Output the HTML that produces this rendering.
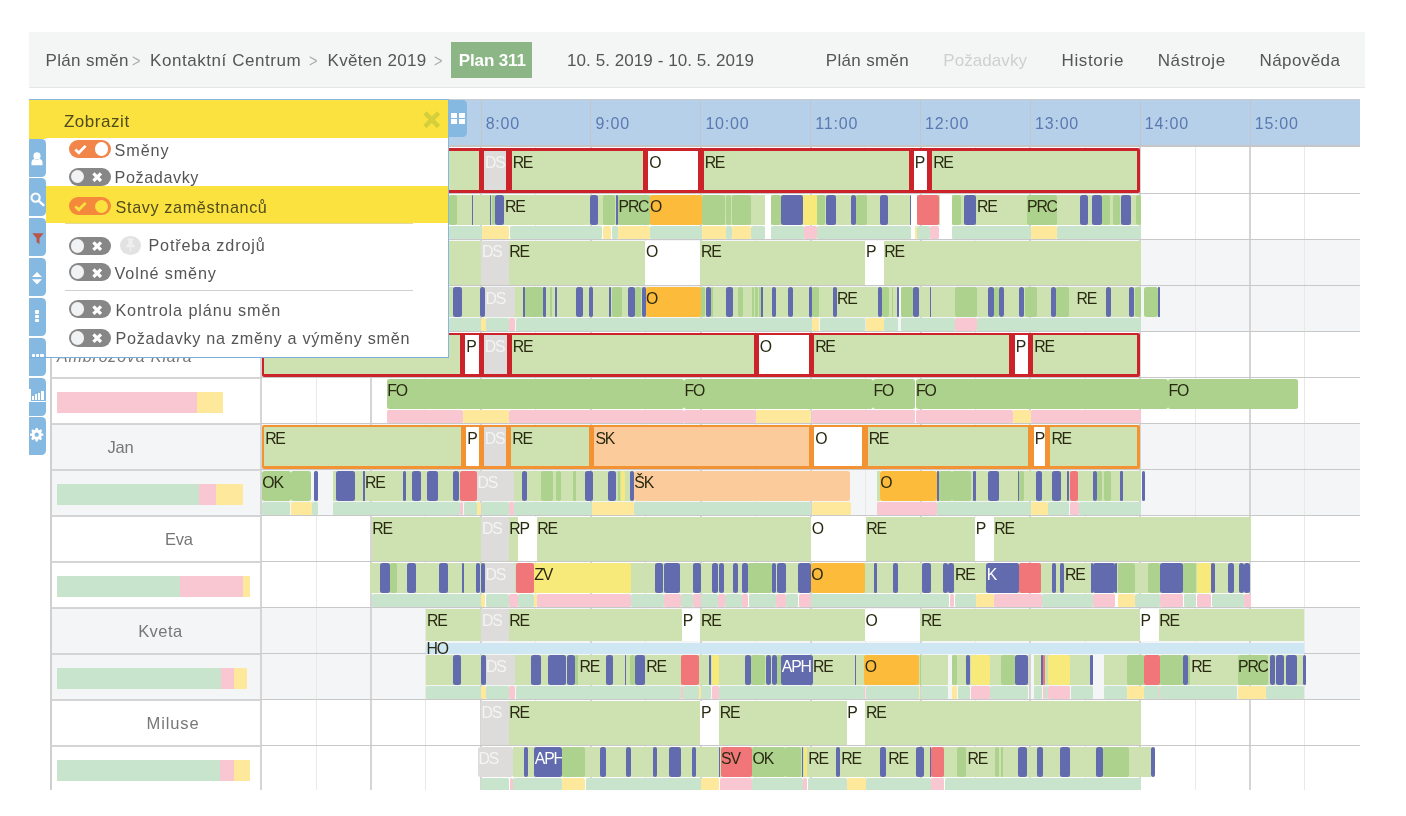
<!DOCTYPE html><html lang="cs"><head><meta charset="utf-8"><title>Plán směn</title><style>
html,body{margin:0;padding:0;background:#fff;}
body{width:1406px;height:816px;overflow:hidden;position:relative;font-family:"Liberation Sans",sans-serif;}
#clip{position:absolute;left:0;top:0;width:1406px;height:789.6px;overflow:hidden;z-index:0;}
#clip div,#clip span,#top span,#panel div,#panel span,#tabs div{position:absolute;box-sizing:border-box;}
.bk{}
.ov{overflow:hidden;}
.sb{border:2.6px solid #cc2229;}
.lb{z-index:2;font-size:15.8px;line-height:18px;letter-spacing:-1.25px;white-space:nowrap;padding-right:2px;}
.lb2{left:0.6px;top:3.25px;font-size:15.8px;line-height:18px;letter-spacing:-1.25px;white-space:nowrap;}
.hl{background:#d5d5d5;width:2px;}
.hh{background:#e9e9e9;width:1px;}
.rl{background:#d4d4d4;height:2px;}
.tm{font-size:16px;line-height:20px;color:#5b79b1;letter-spacing:0.8px;white-space:nowrap;}
.nm{font-size:16.5px;line-height:20px;color:#777;white-space:nowrap;}
#top{position:absolute;left:29px;top:32px;width:1335.5px;height:55.3px;background:#f4f6f5;border-bottom:1.2px solid #e6e6e6;box-sizing:content-box;}
#top span{font-size:17px;line-height:22px;color:#555;white-space:nowrap;top:17.5px;}
#panel{position:absolute;left:0;top:0;width:0;height:0;z-index:1;}
#tabs{position:absolute;left:0;top:0;z-index:2;}
.tg{width:42.4px;height:18.2px;border-radius:9.2px;}
.kn{width:13.6px;height:13.6px;border-radius:7px;top:2.3px;}
.pt{font-size:16.2px;line-height:20px;color:#555;white-space:nowrap;}
#tabs div.tb{left:29.2px;width:17.3px;height:38px;background:#86b9e1;border-radius:0 4.5px 4.5px 0;}
</style></head><body>
<div id="top">
<span style="left:422.25px;top:9.5px;width:81.2px;height:36.5px;background:#8cb686;"></span>
<span style="left:429.75px;color:#fff;font-weight:bold;letter-spacing:-0.127px;" id="t_plan" class="fit">Plan 311</span>
<span id="t0" class="fit" style="left:16.50px;;letter-spacing:0.330px;">Plán směn</span>
<span id="t1" class="fit" style="left:102.90px;color:#aaa;font-size:19px;top:18.2px;transform:scaleX(.76);transform-origin:0 50%;">&gt;</span>
<span id="t2" class="fit" style="left:121.00px;;letter-spacing:0.562px;">Kontaktní Centrum</span>
<span id="t3" class="fit" style="left:280.40px;color:#aaa;font-size:19px;top:18.2px;transform:scaleX(.76);transform-origin:0 50%;">&gt;</span>
<span id="t4" class="fit" style="left:298.50px;;letter-spacing:0.326px;">Květen 2019</span>
<span id="t5" class="fit" style="left:404.90px;color:#aaa;font-size:19px;top:18.2px;transform:scaleX(.76);transform-origin:0 50%;">&gt;</span>
<span id="t6" class="fit" style="left:538.00px;;letter-spacing:0.071px;">10. 5. 2019 - 10. 5. 2019</span>
<span id="t7" class="fit" style="left:796.75px;;letter-spacing:0.330px;">Plán směn</span>
<span id="t8" class="fit" style="left:914.25px;color:#cfcfcf;letter-spacing:0.070px;">Požadavky</span>
<span id="t9" class="fit" style="left:1032.50px;;letter-spacing:0.616px;">Historie</span>
<span id="t10" class="fit" style="left:1128.75px;;letter-spacing:0.592px;">Nástroje</span>
<span id="t11" class="fit" style="left:1230.50px;;letter-spacing:0.411px;">Nápověda</span>
</div>
<div id="clip">
<div style="left:51px;top:147.30px;width:1308.5px;height:46.03px;background:#ffffff"></div>
<div style="left:51px;top:193.33px;width:1308.5px;height:46.03px;background:#ffffff"></div>
<div style="left:51px;top:239.36px;width:1308.5px;height:46.03px;background:#f4f5f7"></div>
<div style="left:51px;top:285.39px;width:1308.5px;height:46.03px;background:#f4f5f7"></div>
<div style="left:51px;top:331.42px;width:1308.5px;height:46.03px;background:#ffffff"></div>
<div style="left:51px;top:377.45px;width:1308.5px;height:46.03px;background:#ffffff"></div>
<div style="left:51px;top:423.48px;width:1308.5px;height:46.03px;background:#f4f5f7"></div>
<div style="left:51px;top:469.51px;width:1308.5px;height:46.03px;background:#f4f5f7"></div>
<div style="left:51px;top:515.54px;width:1308.5px;height:46.03px;background:#ffffff"></div>
<div style="left:51px;top:561.57px;width:1308.5px;height:46.03px;background:#ffffff"></div>
<div style="left:51px;top:607.60px;width:1308.5px;height:46.03px;background:#f4f5f7"></div>
<div style="left:51px;top:653.63px;width:1308.5px;height:46.03px;background:#f4f5f7"></div>
<div style="left:51px;top:699.66px;width:1308.5px;height:46.03px;background:#ffffff"></div>
<div style="left:51px;top:745.69px;width:1308.5px;height:46.03px;background:#ffffff"></div>
<div style="left:448px;top:99.3px;width:911.5px;height:46.2px;background:#b6d0e9;border-top:1px solid #c9cdd2"></div>
<div class="hl" style="left:260.30px;top:146px;height:650px"></div>
<div class="hh" style="left:315.60px;top:147px;height:650px"></div>
<div class="hl" style="left:370.17px;top:146px;height:650px"></div>
<div class="hh" style="left:425.47px;top:147px;height:650px"></div>
<div class="hl" style="left:480.54px;top:100px;height:46px;background:#c2c5c9;width:1px"></div>
<div class="hl" style="left:480.04px;top:146px;height:650px"></div>
<div class="hh" style="left:535.34px;top:147px;height:650px"></div>
<div class="hl" style="left:590.41px;top:100px;height:46px;background:#c2c5c9;width:1px"></div>
<div class="hl" style="left:589.91px;top:146px;height:650px"></div>
<div class="hh" style="left:645.21px;top:147px;height:650px"></div>
<div class="hl" style="left:700.28px;top:100px;height:46px;background:#c2c5c9;width:1px"></div>
<div class="hl" style="left:699.78px;top:146px;height:650px"></div>
<div class="hh" style="left:755.08px;top:147px;height:650px"></div>
<div class="hl" style="left:810.15px;top:100px;height:46px;background:#c2c5c9;width:1px"></div>
<div class="hl" style="left:809.65px;top:146px;height:650px"></div>
<div class="hh" style="left:864.95px;top:147px;height:650px"></div>
<div class="hl" style="left:920.02px;top:100px;height:46px;background:#c2c5c9;width:1px"></div>
<div class="hl" style="left:919.52px;top:146px;height:650px"></div>
<div class="hh" style="left:974.82px;top:147px;height:650px"></div>
<div class="hl" style="left:1029.89px;top:100px;height:46px;background:#c2c5c9;width:1px"></div>
<div class="hl" style="left:1029.39px;top:146px;height:650px"></div>
<div class="hh" style="left:1084.69px;top:147px;height:650px"></div>
<div class="hl" style="left:1139.76px;top:100px;height:46px;background:#c2c5c9;width:1px"></div>
<div class="hl" style="left:1139.26px;top:146px;height:650px"></div>
<div class="hh" style="left:1194.56px;top:147px;height:650px"></div>
<div class="hl" style="left:1249.63px;top:100px;height:46px;background:#c2c5c9;width:1px"></div>
<div class="hl" style="left:1249.13px;top:146px;height:650px"></div>
<div class="hh" style="left:1304.43px;top:147px;height:650px"></div>
<div class="hl" style="left:50px;top:146px;height:650px;background:#cfcfcf"></div>
<div style="left:261px;top:145.3px;width:1098.5px;height:1.9px;background:#c6c6c6"></div>
<div class="rl" style="left:51px;top:192.93px;width:210px"></div>
<div class="rl" style="left:261px;top:193.13px;width:1098.5px;height:1px;background:#c8c8c8"></div>
<div class="rl" style="left:51px;top:238.96px;width:210px"></div>
<div class="rl" style="left:261px;top:239.16px;width:1098.5px;height:1px;background:#c8c8c8"></div>
<div class="rl" style="left:51px;top:284.99px;width:210px"></div>
<div class="rl" style="left:261px;top:285.19px;width:1098.5px;height:1px;background:#c8c8c8"></div>
<div class="rl" style="left:51px;top:331.02px;width:210px"></div>
<div class="rl" style="left:261px;top:331.22px;width:1098.5px;height:1px;background:#c8c8c8"></div>
<div class="rl" style="left:51px;top:377.05px;width:210px"></div>
<div class="rl" style="left:261px;top:377.25px;width:1098.5px;height:1px;background:#c8c8c8"></div>
<div class="rl" style="left:51px;top:423.08px;width:210px"></div>
<div class="rl" style="left:261px;top:423.28px;width:1098.5px;height:1px;background:#c8c8c8"></div>
<div class="rl" style="left:51px;top:469.11px;width:210px"></div>
<div class="rl" style="left:261px;top:469.31px;width:1098.5px;height:1px;background:#c8c8c8"></div>
<div class="rl" style="left:51px;top:515.14px;width:210px"></div>
<div class="rl" style="left:261px;top:515.34px;width:1098.5px;height:1px;background:#c8c8c8"></div>
<div class="rl" style="left:51px;top:561.17px;width:210px"></div>
<div class="rl" style="left:261px;top:561.37px;width:1098.5px;height:1px;background:#c8c8c8"></div>
<div class="rl" style="left:51px;top:607.20px;width:210px"></div>
<div class="rl" style="left:261px;top:607.40px;width:1098.5px;height:1px;background:#c8c8c8"></div>
<div class="rl" style="left:51px;top:653.23px;width:210px"></div>
<div class="rl" style="left:261px;top:653.43px;width:1098.5px;height:1px;background:#c8c8c8"></div>
<div class="rl" style="left:51px;top:699.26px;width:210px"></div>
<div class="rl" style="left:261px;top:699.46px;width:1098.5px;height:1px;background:#c8c8c8"></div>
<div class="rl" style="left:51px;top:745.29px;width:210px"></div>
<div class="rl" style="left:261px;top:745.49px;width:1098.5px;height:1px;background:#c8c8c8"></div>
<span class="tm" style="left:265.90px;top:114.2px">6:00</span>
<span class="tm" style="left:375.77px;top:114.2px">7:00</span>
<span class="tm" style="left:485.64px;top:114.2px">8:00</span>
<span class="tm" style="left:595.51px;top:114.2px">9:00</span>
<span class="tm" style="left:705.38px;top:114.2px">10:00</span>
<span class="tm" style="left:815.25px;top:114.2px">11:00</span>
<span class="tm" style="left:925.12px;top:114.2px">12:00</span>
<span class="tm" style="left:1034.99px;top:114.2px">13:00</span>
<span class="tm" style="left:1144.86px;top:114.2px">14:00</span>
<span class="tm" style="left:1254.73px;top:114.2px">15:00</span>
<span class="nm fit" id="n4" style="left:57.00px;top:345.02px;font-style:italic;font-size:16px;margin-top:2.3px;letter-spacing:0.85px;">Ambrozova Klara</span>
<span class="nm fit" id="n6" style="left:107.50px;top:437.08px;letter-spacing:-0.270px;">Jan</span>
<span class="nm fit" id="n8" style="left:165.00px;top:529.14px;letter-spacing:-0.296px;">Eva</span>
<span class="nm fit" id="n10" style="left:138.20px;top:621.20px;letter-spacing:0.419px;">Kveta</span>
<span class="nm fit" id="n12" style="left:146.50px;top:713.26px;letter-spacing:0.894px;">Miluse</span>
<div class="bk" style="left:261.50px;top:147.90px;width:878.50px;height:45.20px;background:#cc2229;border-radius:2px;"></div>
<div class="bk" style="left:264.15px;top:150.55px;width:214.60px;height:39.90px;background:#cde2b0;"></div>
<div class="bk" style="left:484.05px;top:150.55px;width:22.30px;height:39.90px;background:#dddcda;"></div>
<span class="lb" style="left:485.05px;top:153.65px;color:#f4f4f3">DS</span>
<div class="bk" style="left:511.65px;top:150.55px;width:131.40px;height:39.90px;background:#cde2b0;"></div>
<span class="lb" style="left:512.65px;top:153.65px;color:#2a2a12">RE</span>
<div class="bk" style="left:648.35px;top:150.55px;width:50.00px;height:39.90px;background:#ffffff;"></div>
<span class="lb" style="left:649.35px;top:153.65px;color:#2a2a12">O</span>
<div class="bk" style="left:703.65px;top:150.55px;width:204.90px;height:39.90px;background:#cde2b0;"></div>
<span class="lb" style="left:704.65px;top:153.65px;color:#2a2a12">RE</span>
<div class="bk" style="left:913.85px;top:150.55px;width:13.00px;height:39.90px;background:#ffffff;"></div>
<span class="lb" style="left:914.85px;top:153.65px;color:#2a2a12">P</span>
<div class="bk" style="left:932.15px;top:150.55px;width:205.20px;height:39.90px;background:#cde2b0;"></div>
<span class="lb" style="left:933.15px;top:153.65px;color:#2a2a12">RE</span>
<div class="bk" style="left:371.50px;top:240.81px;width:109.75px;height:44.15px;background:#cde2b0;"></div>
<span class="lb" style="left:372.30px;top:243.36px;color:#2a2a12">RE</span>
<div class="bk" style="left:481.25px;top:240.81px;width:27.25px;height:44.15px;background:#dddcda;"></div>
<span class="lb" style="left:482.05px;top:243.36px;color:#f4f4f3">DS</span>
<div class="bk" style="left:508.50px;top:240.81px;width:136.75px;height:44.15px;background:#cde2b0;"></div>
<span class="lb" style="left:509.30px;top:243.36px;color:#2a2a12">RE</span>
<div class="bk" style="left:645.25px;top:240.81px;width:55.00px;height:44.15px;background:#ffffff;"></div>
<span class="lb" style="left:646.05px;top:243.36px;color:#2a2a12">O</span>
<div class="bk" style="left:700.25px;top:240.81px;width:165.00px;height:44.15px;background:#cde2b0;"></div>
<span class="lb" style="left:701.05px;top:243.36px;color:#2a2a12">RE</span>
<div class="bk" style="left:865.25px;top:240.81px;width:18.25px;height:44.15px;background:#ffffff;"></div>
<span class="lb" style="left:866.05px;top:243.36px;color:#2a2a12">P</span>
<div class="bk" style="left:883.50px;top:240.81px;width:257.00px;height:44.15px;background:#cde2b0;"></div>
<span class="lb" style="left:884.30px;top:243.36px;color:#2a2a12">RE</span>
<div class="bk" style="left:261.50px;top:332.67px;width:878.50px;height:44.35px;background:#cc2229;border-radius:2px;"></div>
<div class="bk" style="left:264.15px;top:335.32px;width:195.80px;height:39.05px;background:#cde2b0;"></div>
<span class="lb" style="left:265.15px;top:337.77px;color:#2a2a12">RE</span>
<div class="bk" style="left:465.25px;top:335.32px;width:13.30px;height:39.05px;background:#ffffff;"></div>
<span class="lb" style="left:466.25px;top:337.77px;color:#2a2a12">P</span>
<div class="bk" style="left:483.85px;top:335.32px;width:22.70px;height:39.05px;background:#dddcda;"></div>
<span class="lb" style="left:484.85px;top:337.77px;color:#f4f4f3">DS</span>
<div class="bk" style="left:511.85px;top:335.32px;width:241.70px;height:39.05px;background:#cde2b0;"></div>
<span class="lb" style="left:512.85px;top:337.77px;color:#2a2a12">RE</span>
<div class="bk" style="left:758.85px;top:335.32px;width:50.00px;height:39.05px;background:#ffffff;"></div>
<span class="lb" style="left:759.85px;top:337.77px;color:#2a2a12">O</span>
<div class="bk" style="left:814.15px;top:335.32px;width:195.20px;height:39.05px;background:#cde2b0;"></div>
<span class="lb" style="left:815.15px;top:337.77px;color:#2a2a12">RE</span>
<div class="bk" style="left:1014.65px;top:335.32px;width:13.40px;height:39.05px;background:#ffffff;"></div>
<span class="lb" style="left:1015.65px;top:337.77px;color:#2a2a12">P</span>
<div class="bk" style="left:1033.35px;top:335.32px;width:104.00px;height:39.05px;background:#cde2b0;"></div>
<span class="lb" style="left:1034.35px;top:337.77px;color:#2a2a12">RE</span>
<div class="bk" style="left:261.50px;top:424.73px;width:878.50px;height:44.35px;background:#f39233;border-radius:2px;"></div>
<div class="bk" style="left:264.15px;top:427.38px;width:196.70px;height:39.05px;background:#cde2b0;"></div>
<span class="lb" style="left:265.15px;top:429.83px;color:#2a2a12">RE</span>
<div class="bk" style="left:466.15px;top:427.38px;width:12.40px;height:39.05px;background:#ffffff;"></div>
<span class="lb" style="left:467.15px;top:429.83px;color:#2a2a12">P</span>
<div class="bk" style="left:483.85px;top:427.38px;width:22.20px;height:39.05px;background:#dddcda;"></div>
<span class="lb" style="left:484.85px;top:429.83px;color:#f4f4f3">DS</span>
<div class="bk" style="left:511.35px;top:427.38px;width:77.80px;height:39.05px;background:#cde2b0;"></div>
<span class="lb" style="left:512.35px;top:429.83px;color:#2a2a12">RE</span>
<div class="bk" style="left:594.45px;top:427.38px;width:214.40px;height:39.05px;background:#fccb9c;"></div>
<span class="lb" style="left:595.45px;top:429.83px;color:#2a2a12">SK</span>
<div class="bk" style="left:814.15px;top:427.38px;width:48.20px;height:39.05px;background:#ffffff;"></div>
<span class="lb" style="left:815.15px;top:429.83px;color:#2a2a12">O</span>
<div class="bk" style="left:867.65px;top:427.38px;width:160.70px;height:39.05px;background:#cde2b0;"></div>
<span class="lb" style="left:868.65px;top:429.83px;color:#2a2a12">RE</span>
<div class="bk" style="left:1033.65px;top:427.38px;width:11.50px;height:39.05px;background:#ffffff;"></div>
<span class="lb" style="left:1034.65px;top:429.83px;color:#2a2a12">P</span>
<div class="bk" style="left:1050.45px;top:427.38px;width:86.90px;height:39.05px;background:#cde2b0;"></div>
<span class="lb" style="left:1051.45px;top:429.83px;color:#2a2a12">RE</span>
<div class="bk" style="left:371.50px;top:516.99px;width:109.75px;height:44.15px;background:#cde2b0;"></div>
<span class="lb" style="left:372.30px;top:519.54px;color:#2a2a12">RE</span>
<div class="bk" style="left:481.25px;top:516.99px;width:27.25px;height:44.15px;background:#dddcda;"></div>
<span class="lb" style="left:482.05px;top:519.54px;color:#f4f4f3">DS</span>
<div class="bk" style="left:508.50px;top:516.99px;width:9.00px;height:44.15px;background:#cde2b0;"></div>
<span class="lb" style="left:509.30px;top:519.54px;color:#2a2a12">RP</span>
<div class="bk" style="left:517.50px;top:516.99px;width:19.00px;height:44.15px;background:#ffffff;"></div>
<div class="bk" style="left:536.50px;top:516.99px;width:274.50px;height:44.15px;background:#cde2b0;"></div>
<span class="lb" style="left:537.30px;top:519.54px;color:#2a2a12">RE</span>
<div class="bk" style="left:811.00px;top:516.99px;width:54.50px;height:44.15px;background:#ffffff;"></div>
<span class="lb" style="left:811.80px;top:519.54px;color:#2a2a12">O</span>
<div class="bk" style="left:865.50px;top:516.99px;width:109.50px;height:44.15px;background:#cde2b0;"></div>
<span class="lb" style="left:866.30px;top:519.54px;color:#2a2a12">RE</span>
<div class="bk" style="left:975.00px;top:516.99px;width:18.50px;height:44.15px;background:#ffffff;"></div>
<span class="lb" style="left:975.80px;top:519.54px;color:#2a2a12">P</span>
<div class="bk" style="left:993.50px;top:516.99px;width:257.50px;height:44.15px;background:#cde2b0;"></div>
<span class="lb" style="left:994.30px;top:519.54px;color:#2a2a12">RE</span>
<div class="bk" style="left:426.25px;top:609.05px;width:55.00px;height:31.95px;background:#cde2b0;"></div>
<span class="lb" style="left:427.05px;top:611.60px;color:#2a2a12">RE</span>
<div class="bk" style="left:481.25px;top:609.05px;width:27.25px;height:31.95px;background:#dddcda;"></div>
<span class="lb" style="left:482.05px;top:611.60px;color:#f4f4f3">DS</span>
<div class="bk" style="left:508.50px;top:609.05px;width:173.50px;height:31.95px;background:#cde2b0;"></div>
<span class="lb" style="left:509.30px;top:611.60px;color:#2a2a12">RE</span>
<div class="bk" style="left:682.00px;top:609.05px;width:18.25px;height:31.95px;background:#ffffff;"></div>
<span class="lb" style="left:682.80px;top:611.60px;color:#2a2a12">P</span>
<div class="bk" style="left:700.25px;top:609.05px;width:164.50px;height:31.95px;background:#cde2b0;"></div>
<span class="lb" style="left:701.05px;top:611.60px;color:#2a2a12">RE</span>
<div class="bk" style="left:864.75px;top:609.05px;width:55.50px;height:31.95px;background:#ffffff;"></div>
<span class="lb" style="left:865.55px;top:611.60px;color:#2a2a12">O</span>
<div class="bk" style="left:920.25px;top:609.05px;width:219.50px;height:31.95px;background:#cde2b0;"></div>
<span class="lb" style="left:921.05px;top:611.60px;color:#2a2a12">RE</span>
<div class="bk" style="left:1139.75px;top:609.05px;width:18.75px;height:31.95px;background:#ffffff;"></div>
<span class="lb" style="left:1140.55px;top:611.60px;color:#2a2a12">P</span>
<div class="bk" style="left:1158.50px;top:609.05px;width:145.50px;height:31.95px;background:#cde2b0;"></div>
<span class="lb" style="left:1159.30px;top:611.60px;color:#2a2a12">RE</span>
<div class="bk" style="left:480.75px;top:701.11px;width:27.75px;height:44.15px;background:#dddcda;"></div>
<span class="lb" style="left:481.55px;top:703.66px;color:#f4f4f3">DS</span>
<div class="bk" style="left:508.50px;top:701.11px;width:191.75px;height:44.15px;background:#cde2b0;"></div>
<span class="lb" style="left:509.30px;top:703.66px;color:#2a2a12">RE</span>
<div class="bk" style="left:700.25px;top:701.11px;width:18.75px;height:44.15px;background:#ffffff;"></div>
<span class="lb" style="left:701.05px;top:703.66px;color:#2a2a12">P</span>
<div class="bk" style="left:719.00px;top:701.11px;width:127.50px;height:44.15px;background:#cde2b0;"></div>
<span class="lb" style="left:719.80px;top:703.66px;color:#2a2a12">RE</span>
<div class="bk" style="left:846.50px;top:701.11px;width:18.75px;height:44.15px;background:#ffffff;"></div>
<span class="lb" style="left:847.30px;top:703.66px;color:#2a2a12">P</span>
<div class="bk" style="left:865.25px;top:701.11px;width:275.25px;height:44.15px;background:#cde2b0;"></div>
<span class="lb" style="left:866.05px;top:703.66px;color:#2a2a12">RE</span>
<div class="bk" style="left:426.25px;top:642.60px;width:877.75px;height:11.00px;background:#cfe6f3;"></div>
<span class="lb" style="left:426.6px;top:640.40px;color:#2a2a12;height:13.3px;overflow:hidden">HO</span>
<div class="bk" style="left:449.00px;top:194.53px;width:315.50px;height:30.30px;background:#cde2b0;"></div>
<div class="bk" style="left:770.50px;top:194.53px;width:139.50px;height:30.30px;background:#cde2b0;"></div>
<div class="bk" style="left:917.00px;top:194.53px;width:23.00px;height:30.30px;background:#cde2b0;"></div>
<div class="bk" style="left:952.00px;top:194.53px;width:188.50px;height:30.30px;background:#cde2b0;"></div>
<div class="bk" style="left:449.00px;top:194.53px;width:7.50px;height:30.30px;background:#acd28e;border-radius:2.5px;"></div>
<div class="bk" style="left:471.50px;top:194.53px;width:1.10px;height:30.30px;background:#626bad;border-radius:0.6px;"></div>
<div class="bk" style="left:489.60px;top:194.53px;width:1.40px;height:30.30px;background:#626bad;border-radius:0.7px;"></div>
<div class="bk" style="left:491.75px;top:194.53px;width:2.75px;height:30.30px;background:#acd28e;border-radius:1.4px;"></div>
<div class="bk" style="left:495.00px;top:194.53px;width:8.75px;height:30.30px;background:#626bad;border-radius:2.5px;"></div>
<div class="bk" style="left:589.50px;top:194.53px;width:8.50px;height:30.30px;background:#626bad;border-radius:2.5px;"></div>
<div class="bk" style="left:602.50px;top:194.53px;width:12.50px;height:30.30px;background:#acd28e;border-radius:2.5px;"></div>
<div class="bk" style="left:615.75px;top:194.53px;width:2.25px;height:30.30px;background:#626bad;border-radius:1.1px;"></div>
<div class="bk ov" style="left:618.00px;top:194.53px;width:31.50px;height:30.30px;background:#acd28e;border-radius:2.5px;"><span class="lb2" style="color:#2a2a12">PRC</span></div>
<div class="bk ov" style="left:649.50px;top:194.53px;width:52.50px;height:30.30px;background:#fcbb3a;border-radius:2.5px;"><span class="lb2" style="color:#2a2a12">O</span></div>
<div class="bk" style="left:702.00px;top:194.53px;width:23.00px;height:30.30px;background:#acd28e;border-radius:2.5px;"></div>
<div class="bk" style="left:725.50px;top:194.53px;width:5.50px;height:30.30px;background:#acd28e;border-radius:2.5px;"></div>
<div class="bk" style="left:731.50px;top:194.53px;width:19.25px;height:30.30px;background:#acd28e;border-radius:2.5px;"></div>
<div class="bk" style="left:770.50px;top:194.53px;width:10.00px;height:30.30px;background:#acd28e;border-radius:2.5px;"></div>
<div class="bk" style="left:780.50px;top:194.53px;width:22.75px;height:30.30px;background:#626bad;border-radius:2.5px;"></div>
<div class="bk" style="left:803.25px;top:194.53px;width:13.25px;height:30.30px;background:#f7ea7a;border-radius:2.5px;"></div>
<div class="bk" style="left:817.00px;top:194.53px;width:8.00px;height:30.30px;background:#acd28e;border-radius:2.5px;"></div>
<div class="bk" style="left:825.50px;top:194.53px;width:10.50px;height:30.30px;background:#626bad;border-radius:2.5px;"></div>
<div class="bk" style="left:850.75px;top:194.53px;width:5.00px;height:30.30px;background:#626bad;border-radius:2.5px;"></div>
<div class="bk" style="left:856.00px;top:194.53px;width:11.00px;height:30.30px;background:#acd28e;border-radius:2.5px;"></div>
<div class="bk" style="left:880.00px;top:194.53px;width:7.50px;height:30.30px;background:#626bad;border-radius:2.5px;"></div>
<div class="bk" style="left:910.00px;top:194.53px;width:1.25px;height:30.30px;background:#626bad;border-radius:0.6px;"></div>
<div class="bk" style="left:917.00px;top:194.53px;width:21.75px;height:30.30px;background:#f07679;border-radius:2.5px;"></div>
<div class="bk" style="left:952.00px;top:194.53px;width:9.00px;height:30.30px;background:#acd28e;border-radius:2.5px;"></div>
<div class="bk" style="left:963.75px;top:194.53px;width:12.00px;height:30.30px;background:#626bad;border-radius:2.5px;"></div>
<div class="bk ov" style="left:1026.50px;top:194.53px;width:30.00px;height:30.30px;background:#acd28e;border-radius:2.5px;"><span class="lb2" style="color:#2a2a12">PRC</span></div>
<div class="bk" style="left:1079.50px;top:194.53px;width:8.75px;height:30.30px;background:#626bad;border-radius:2.5px;"></div>
<div class="bk" style="left:1092.00px;top:194.53px;width:9.50px;height:30.30px;background:#626bad;border-radius:2.5px;"></div>
<div class="bk" style="left:1101.50px;top:194.53px;width:8.50px;height:30.30px;background:#acd28e;border-radius:2.5px;"></div>
<div class="bk" style="left:1112.50px;top:194.53px;width:7.50px;height:30.30px;background:#acd28e;border-radius:2.5px;"></div>
<div class="bk" style="left:1121.25px;top:194.53px;width:9.50px;height:30.30px;background:#626bad;border-radius:2.5px;"></div>
<div class="bk" style="left:1135.75px;top:194.53px;width:4.75px;height:30.30px;background:#acd28e;border-radius:2.4px;"></div>
<span class="lb" style="left:505.00px;top:197.78px;color:#2a2a12">RE</span>
<span class="lb" style="left:977.00px;top:197.78px;color:#2a2a12">RE</span>
<div class="bk" style="left:449.00px;top:226.13px;width:32.50px;height:12.90px;background:#c9e4cc;border-radius:1.5px;"></div>
<div class="bk" style="left:481.50px;top:226.13px;width:27.50px;height:12.90px;background:#fde89c;border-radius:1.5px;"></div>
<div class="bk" style="left:509.50px;top:226.13px;width:92.50px;height:12.90px;background:#c9e4cc;border-radius:1.5px;"></div>
<div class="bk" style="left:602.50px;top:226.13px;width:8.50px;height:12.90px;background:#fde89c;border-radius:1.5px;"></div>
<div class="bk" style="left:612.00px;top:226.13px;width:5.50px;height:12.90px;background:#c9e4cc;border-radius:1.5px;"></div>
<div class="bk" style="left:618.00px;top:226.13px;width:31.50px;height:12.90px;background:#fde89c;border-radius:1.5px;"></div>
<div class="bk" style="left:649.50px;top:226.13px;width:52.00px;height:12.90px;background:#c9e4cc;border-radius:1.5px;"></div>
<div class="bk" style="left:702.00px;top:226.13px;width:23.50px;height:12.90px;background:#fde89c;border-radius:1.5px;"></div>
<div class="bk" style="left:726.00px;top:226.13px;width:5.50px;height:12.90px;background:#c9e4cc;border-radius:1.5px;"></div>
<div class="bk" style="left:732.00px;top:226.13px;width:18.50px;height:12.90px;background:#fde89c;border-radius:1.5px;"></div>
<div class="bk" style="left:751.00px;top:226.13px;width:13.50px;height:12.90px;background:#c9e4cc;border-radius:1.5px;"></div>
<div class="bk" style="left:770.50px;top:226.13px;width:33.00px;height:12.90px;background:#c9e4cc;border-radius:1.5px;"></div>
<div class="bk" style="left:803.50px;top:226.13px;width:13.00px;height:12.90px;background:#f9c7d1;border-radius:1.5px;"></div>
<div class="bk" style="left:817.00px;top:226.13px;width:93.50px;height:12.90px;background:#c9e4cc;border-radius:1.5px;"></div>
<div class="bk" style="left:915.25px;top:226.13px;width:1.25px;height:12.90px;background:#fde89c;border-radius:1.5px;"></div>
<div class="bk" style="left:917.00px;top:226.13px;width:12.50px;height:12.90px;background:#c9e4cc;border-radius:1.5px;"></div>
<div class="bk" style="left:930.00px;top:226.13px;width:8.50px;height:12.90px;background:#f9c7d1;border-radius:1.5px;"></div>
<div class="bk" style="left:952.00px;top:226.13px;width:78.50px;height:12.90px;background:#c9e4cc;border-radius:1.5px;"></div>
<div class="bk" style="left:1031.00px;top:226.13px;width:25.50px;height:12.90px;background:#fde89c;border-radius:1.5px;"></div>
<div class="bk" style="left:1057.00px;top:226.13px;width:83.50px;height:12.90px;background:#c9e4cc;border-radius:1.5px;"></div>
<div class="bk" style="left:449.00px;top:286.59px;width:447.50px;height:30.30px;background:#cde2b0;"></div>
<div class="bk" style="left:901.00px;top:286.59px;width:239.50px;height:30.30px;background:#cde2b0;"></div>
<div class="bk" style="left:452.50px;top:286.59px;width:9.25px;height:30.30px;background:#626bad;border-radius:2.5px;"></div>
<div class="bk" style="left:480.00px;top:286.59px;width:5.00px;height:30.30px;background:#626bad;border-radius:2.5px;"></div>
<div class="bk ov" style="left:485.00px;top:286.59px;width:30.00px;height:30.30px;background:#dddcda;border-radius:2.5px;"><span class="lb2" style="color:#f4f4f3">DS</span></div>
<div class="bk" style="left:523.25px;top:286.59px;width:1.25px;height:30.30px;background:#626bad;border-radius:0.6px;"></div>
<div class="bk" style="left:524.50px;top:286.59px;width:18.00px;height:30.30px;background:#acd28e;border-radius:2.5px;"></div>
<div class="bk" style="left:543.25px;top:286.59px;width:2.50px;height:30.30px;background:#626bad;border-radius:1.2px;"></div>
<div class="bk" style="left:550.00px;top:286.59px;width:2.00px;height:30.30px;background:#acd28e;border-radius:1.0px;"></div>
<div class="bk" style="left:554.50px;top:286.59px;width:2.50px;height:30.30px;background:#626bad;border-radius:1.2px;"></div>
<div class="bk" style="left:576.25px;top:286.59px;width:6.25px;height:30.30px;background:#626bad;border-radius:2.5px;"></div>
<div class="bk" style="left:589.00px;top:286.59px;width:3.50px;height:30.30px;background:#626bad;border-radius:1.8px;"></div>
<div class="bk" style="left:609.00px;top:286.59px;width:2.25px;height:30.30px;background:#626bad;border-radius:1.1px;"></div>
<div class="bk" style="left:611.50px;top:286.59px;width:10.00px;height:30.30px;background:#acd28e;border-radius:2.5px;"></div>
<div class="bk" style="left:627.50px;top:286.59px;width:7.00px;height:30.30px;background:#626bad;border-radius:2.5px;"></div>
<div class="bk" style="left:634.50px;top:286.59px;width:6.50px;height:30.30px;background:#acd28e;border-radius:2.5px;"></div>
<div class="bk" style="left:641.50px;top:286.59px;width:4.00px;height:30.30px;background:#626bad;border-radius:2.0px;"></div>
<div class="bk ov" style="left:645.50px;top:286.59px;width:55.25px;height:30.30px;background:#fcbb3a;border-radius:2.5px;"><span class="lb2" style="color:#2a2a12">O</span></div>
<div class="bk" style="left:701.00px;top:286.59px;width:4.00px;height:30.30px;background:#acd28e;border-radius:2.0px;"></div>
<div class="bk" style="left:705.75px;top:286.59px;width:5.00px;height:30.30px;background:#626bad;border-radius:2.5px;"></div>
<div class="bk" style="left:711.00px;top:286.59px;width:2.00px;height:30.30px;background:#acd28e;border-radius:1.0px;"></div>
<div class="bk" style="left:725.75px;top:286.59px;width:7.50px;height:30.30px;background:#626bad;border-radius:2.5px;"></div>
<div class="bk" style="left:737.50px;top:286.59px;width:5.00px;height:30.30px;background:#acd28e;border-radius:2.5px;"></div>
<div class="bk" style="left:751.75px;top:286.59px;width:2.25px;height:30.30px;background:#acd28e;border-radius:1.1px;"></div>
<div class="bk" style="left:755.00px;top:286.59px;width:2.60px;height:30.30px;background:#acd28e;border-radius:1.3px;"></div>
<div class="bk" style="left:758.60px;top:286.59px;width:2.40px;height:30.30px;background:#acd28e;border-radius:1.2px;"></div>
<div class="bk" style="left:761.25px;top:286.59px;width:1.25px;height:30.30px;background:#626bad;border-radius:0.6px;"></div>
<div class="bk" style="left:771.75px;top:286.59px;width:4.50px;height:30.30px;background:#626bad;border-radius:2.2px;"></div>
<div class="bk" style="left:788.25px;top:286.59px;width:5.00px;height:30.30px;background:#626bad;border-radius:2.5px;"></div>
<div class="bk" style="left:809.00px;top:286.59px;width:2.50px;height:30.30px;background:#626bad;border-radius:1.2px;"></div>
<div class="bk" style="left:812.00px;top:286.59px;width:6.50px;height:30.30px;background:#acd28e;border-radius:2.5px;"></div>
<div class="bk" style="left:832.50px;top:286.59px;width:4.00px;height:30.30px;background:#626bad;border-radius:2.0px;"></div>
<div class="bk" style="left:878.25px;top:286.59px;width:3.75px;height:30.30px;background:#626bad;border-radius:1.9px;"></div>
<div class="bk" style="left:882.00px;top:286.59px;width:6.50px;height:30.30px;background:#acd28e;border-radius:2.5px;"></div>
<div class="bk" style="left:891.60px;top:286.59px;width:1.00px;height:30.30px;background:#acd28e;border-radius:0.5px;"></div>
<div class="bk" style="left:897.00px;top:286.59px;width:1.50px;height:30.30px;background:#626bad;border-radius:0.8px;"></div>
<div class="bk" style="left:901.25px;top:286.59px;width:11.25px;height:30.30px;background:#acd28e;border-radius:2.5px;"></div>
<div class="bk" style="left:912.50px;top:286.59px;width:6.50px;height:30.30px;background:#626bad;border-radius:2.5px;"></div>
<div class="bk" style="left:929.50px;top:286.59px;width:1.50px;height:30.30px;background:#626bad;border-radius:0.8px;"></div>
<div class="bk" style="left:955.00px;top:286.59px;width:22.00px;height:30.30px;background:#acd28e;border-radius:2.5px;"></div>
<div class="bk" style="left:987.50px;top:286.59px;width:6.25px;height:30.30px;background:#626bad;border-radius:2.5px;"></div>
<div class="bk" style="left:994.00px;top:286.59px;width:4.50px;height:30.30px;background:#acd28e;border-radius:2.2px;"></div>
<div class="bk" style="left:999.25px;top:286.59px;width:4.75px;height:30.30px;background:#626bad;border-radius:2.4px;"></div>
<div class="bk" style="left:1019.00px;top:286.59px;width:5.00px;height:30.30px;background:#626bad;border-radius:2.5px;"></div>
<div class="bk" style="left:1024.50px;top:286.59px;width:12.50px;height:30.30px;background:#acd28e;border-radius:2.5px;"></div>
<div class="bk" style="left:1050.50px;top:286.59px;width:5.00px;height:30.30px;background:#626bad;border-radius:2.5px;"></div>
<div class="bk" style="left:1056.00px;top:286.59px;width:12.50px;height:30.30px;background:#acd28e;border-radius:2.5px;"></div>
<div class="bk" style="left:1105.50px;top:286.59px;width:5.00px;height:30.30px;background:#626bad;border-radius:2.5px;"></div>
<div class="bk" style="left:1129.00px;top:286.59px;width:5.00px;height:30.30px;background:#626bad;border-radius:2.5px;"></div>
<div class="bk" style="left:1134.50px;top:286.59px;width:6.00px;height:30.30px;background:#acd28e;border-radius:2.5px;"></div>
<div class="bk" style="left:1144.00px;top:286.59px;width:13.75px;height:30.30px;background:#acd28e;border-radius:2.5px;"></div>
<div class="bk" style="left:1158.40px;top:286.59px;width:1.20px;height:30.30px;background:#626bad;border-radius:0.6px;"></div>
<span class="lb" style="left:837.00px;top:289.84px;color:#2a2a12">RE</span>
<span class="lb" style="left:1076.50px;top:289.84px;color:#2a2a12">RE</span>
<div class="bk" style="left:449.00px;top:318.19px;width:32.00px;height:12.90px;background:#c9e4cc;border-radius:1.5px;"></div>
<div class="bk" style="left:481.25px;top:318.19px;width:4.25px;height:12.90px;background:#fde89c;border-radius:1.5px;"></div>
<div class="bk" style="left:486.00px;top:318.19px;width:23.00px;height:12.90px;background:#c9e4cc;border-radius:1.5px;"></div>
<div class="bk" style="left:509.25px;top:318.19px;width:5.75px;height:12.90px;background:#f9c7d1;border-radius:1.5px;"></div>
<div class="bk" style="left:515.50px;top:318.19px;width:296.00px;height:12.90px;background:#c9e4cc;border-radius:1.5px;"></div>
<div class="bk" style="left:812.00px;top:318.19px;width:7.00px;height:12.90px;background:#fde89c;border-radius:1.5px;"></div>
<div class="bk" style="left:819.50px;top:318.19px;width:45.50px;height:12.90px;background:#c9e4cc;border-radius:1.5px;"></div>
<div class="bk" style="left:865.50px;top:318.19px;width:18.00px;height:12.90px;background:#fde89c;border-radius:1.5px;"></div>
<div class="bk" style="left:884.00px;top:318.19px;width:14.00px;height:12.90px;background:#c9e4cc;border-radius:1.5px;"></div>
<div class="bk" style="left:901.00px;top:318.19px;width:53.50px;height:12.90px;background:#c9e4cc;border-radius:1.5px;"></div>
<div class="bk" style="left:955.00px;top:318.19px;width:22.00px;height:12.90px;background:#f9c7d1;border-radius:1.5px;"></div>
<div class="bk" style="left:977.00px;top:318.19px;width:163.50px;height:12.90px;background:#c9e4cc;border-radius:1.5px;"></div>
<div class="bk ov" style="left:386.75px;top:378.65px;width:296.95px;height:30.30px;background:#acd28e;border-radius:2.5px;"><span class="lb2" style="color:#2a2a12">FO</span></div>
<div class="bk ov" style="left:684.00px;top:378.65px;width:188.70px;height:30.30px;background:#acd28e;border-radius:2.5px;"><span class="lb2" style="color:#2a2a12">FO</span></div>
<div class="bk ov" style="left:873.00px;top:378.65px;width:42.20px;height:30.30px;background:#acd28e;border-radius:2.5px;"><span class="lb2" style="color:#2a2a12">FO</span></div>
<div class="bk ov" style="left:915.50px;top:378.65px;width:252.20px;height:30.30px;background:#acd28e;border-radius:2.5px;"><span class="lb2" style="color:#2a2a12">FO</span></div>
<div class="bk ov" style="left:1168.00px;top:378.65px;width:129.50px;height:30.30px;background:#acd28e;border-radius:2.5px;"><span class="lb2" style="color:#2a2a12">FO</span></div>
<div class="bk" style="left:387.00px;top:410.25px;width:75.50px;height:12.90px;background:#f9c7d1;border-radius:1.5px;"></div>
<div class="bk" style="left:463.00px;top:410.25px;width:45.50px;height:12.90px;background:#fde89c;border-radius:1.5px;"></div>
<div class="bk" style="left:509.00px;top:410.25px;width:174.80px;height:12.90px;background:#f9c7d1;border-radius:1.5px;"></div>
<div class="bk" style="left:684.00px;top:410.25px;width:72.00px;height:12.90px;background:#f9c7d1;border-radius:1.5px;"></div>
<div class="bk" style="left:756.00px;top:410.25px;width:55.00px;height:12.90px;background:#fde89c;border-radius:1.5px;"></div>
<div class="bk" style="left:811.50px;top:410.25px;width:103.80px;height:12.90px;background:#f9c7d1;border-radius:1.5px;"></div>
<div class="bk" style="left:915.50px;top:410.25px;width:97.00px;height:12.90px;background:#f9c7d1;border-radius:1.5px;"></div>
<div class="bk" style="left:1012.50px;top:410.25px;width:18.50px;height:12.90px;background:#fde89c;border-radius:1.5px;"></div>
<div class="bk" style="left:1031.00px;top:410.25px;width:109.50px;height:12.90px;background:#f9c7d1;border-radius:1.5px;"></div>
<div class="bk" style="left:57.00px;top:391.65px;width:140.00px;height:20.90px;background:#f9c7d1;"></div>
<div class="bk" style="left:197.00px;top:391.65px;width:26.25px;height:20.90px;background:#fde89c;"></div>
<div class="bk" style="left:332.50px;top:470.71px;width:301.25px;height:30.30px;background:#cde2b0;"></div>
<div class="bk" style="left:876.50px;top:470.71px;width:3.50px;height:30.30px;background:#cde2b0;"></div>
<div class="bk" style="left:937.25px;top:470.71px;width:203.25px;height:30.30px;background:#cde2b0;"></div>
<div class="bk ov" style="left:261.75px;top:470.71px;width:28.75px;height:30.30px;background:#acd28e;border-radius:2.5px;"><span class="lb2" style="color:#2a2a12">OK</span></div>
<div class="bk" style="left:290.75px;top:470.71px;width:20.50px;height:30.30px;background:#acd28e;border-radius:2.5px;"></div>
<div class="bk" style="left:314.25px;top:470.71px;width:3.25px;height:30.30px;background:#626bad;border-radius:1.6px;"></div>
<div class="bk" style="left:336.25px;top:470.71px;width:18.75px;height:30.30px;background:#626bad;border-radius:2.5px;"></div>
<div class="bk" style="left:363.25px;top:470.71px;width:1.25px;height:30.30px;background:#626bad;border-radius:0.6px;"></div>
<div class="bk" style="left:402.75px;top:470.71px;width:3.50px;height:30.30px;background:#626bad;border-radius:1.8px;"></div>
<div class="bk" style="left:412.00px;top:470.71px;width:8.75px;height:30.30px;background:#626bad;border-radius:2.5px;"></div>
<div class="bk" style="left:426.50px;top:470.71px;width:11.25px;height:30.30px;background:#626bad;border-radius:2.5px;"></div>
<div class="bk" style="left:452.75px;top:470.71px;width:6.25px;height:30.30px;background:#626bad;border-radius:2.5px;"></div>
<div class="bk" style="left:459.50px;top:470.71px;width:17.50px;height:30.30px;background:#f07679;border-radius:2.5px;"></div>
<div class="bk ov" style="left:477.00px;top:470.71px;width:37.00px;height:30.30px;background:#dddcda;border-radius:2.5px;"><span class="lb2" style="color:#f4f4f3">DS</span></div>
<div class="bk" style="left:522.00px;top:470.71px;width:5.00px;height:30.30px;background:#626bad;border-radius:2.5px;"></div>
<div class="bk" style="left:540.75px;top:470.71px;width:12.50px;height:30.30px;background:#acd28e;border-radius:2.5px;"></div>
<div class="bk" style="left:555.75px;top:470.71px;width:5.50px;height:30.30px;background:#acd28e;border-radius:2.5px;"></div>
<div class="bk" style="left:573.25px;top:470.71px;width:2.50px;height:30.30px;background:#acd28e;border-radius:1.2px;"></div>
<div class="bk" style="left:585.00px;top:470.71px;width:7.75px;height:30.30px;background:#626bad;border-radius:2.5px;"></div>
<div class="bk" style="left:607.50px;top:470.71px;width:8.75px;height:30.30px;background:#626bad;border-radius:2.5px;"></div>
<div class="bk" style="left:617.75px;top:470.71px;width:2.25px;height:30.30px;background:#acd28e;border-radius:1.1px;"></div>
<div class="bk" style="left:620.75px;top:470.71px;width:4.50px;height:30.30px;background:#f7ea7a;border-radius:2.2px;"></div>
<div class="bk" style="left:629.50px;top:470.71px;width:4.25px;height:30.30px;background:#626bad;border-radius:2.1px;"></div>
<div class="bk ov" style="left:633.75px;top:470.71px;width:216.50px;height:30.30px;background:#fccb9c;border-radius:2.5px;"><span class="lb2" style="color:#2a2a12">ŠK</span></div>
<div class="bk ov" style="left:879.75px;top:470.71px;width:57.50px;height:30.30px;background:#fcbb3a;border-radius:2.5px;"><span class="lb2" style="color:#2a2a12">O</span></div>
<div class="bk" style="left:937.25px;top:470.71px;width:1.25px;height:30.30px;background:#626bad;border-radius:0.6px;"></div>
<div class="bk" style="left:939.00px;top:470.71px;width:12.50px;height:30.30px;background:#acd28e;border-radius:2.5px;"></div>
<div class="bk" style="left:952.00px;top:470.71px;width:19.00px;height:30.30px;background:#acd28e;border-radius:2.5px;"></div>
<div class="bk" style="left:973.25px;top:470.71px;width:2.50px;height:30.30px;background:#626bad;border-radius:1.2px;"></div>
<div class="bk" style="left:987.75px;top:470.71px;width:11.25px;height:30.30px;background:#626bad;border-radius:2.5px;"></div>
<div class="bk" style="left:1017.75px;top:470.71px;width:1.25px;height:30.30px;background:#626bad;border-radius:0.6px;"></div>
<div class="bk" style="left:1019.00px;top:470.71px;width:4.50px;height:30.30px;background:#acd28e;border-radius:2.2px;"></div>
<div class="bk" style="left:1036.00px;top:470.71px;width:6.25px;height:30.30px;background:#626bad;border-radius:2.5px;"></div>
<div class="bk" style="left:1052.00px;top:470.71px;width:9.00px;height:30.30px;background:#626bad;border-radius:2.5px;"></div>
<div class="bk" style="left:1066.50px;top:470.71px;width:2.50px;height:30.30px;background:#626bad;border-radius:1.2px;"></div>
<div class="bk" style="left:1069.50px;top:470.71px;width:8.75px;height:30.30px;background:#f07679;border-radius:2.5px;"></div>
<div class="bk" style="left:1092.75px;top:470.71px;width:4.25px;height:30.30px;background:#626bad;border-radius:2.1px;"></div>
<div class="bk" style="left:1097.00px;top:470.71px;width:4.50px;height:30.30px;background:#acd28e;border-radius:2.2px;"></div>
<div class="bk" style="left:1104.00px;top:470.71px;width:7.00px;height:30.30px;background:#acd28e;border-radius:2.5px;"></div>
<div class="bk" style="left:1120.25px;top:470.71px;width:2.50px;height:30.30px;background:#626bad;border-radius:1.2px;"></div>
<div class="bk" style="left:1141.50px;top:470.71px;width:3.75px;height:30.30px;background:#626bad;border-radius:1.9px;"></div>
<span class="lb" style="left:365.00px;top:473.96px;color:#2a2a12">RE</span>
<div class="bk" style="left:261.75px;top:502.31px;width:28.25px;height:12.90px;background:#c9e4cc;border-radius:1.5px;"></div>
<div class="bk" style="left:290.50px;top:502.31px;width:21.00px;height:12.90px;background:#fde89c;border-radius:1.5px;"></div>
<div class="bk" style="left:312.00px;top:502.31px;width:5.50px;height:12.90px;background:#c9e4cc;border-radius:1.5px;"></div>
<div class="bk" style="left:332.50px;top:502.31px;width:127.00px;height:12.90px;background:#c9e4cc;border-radius:1.5px;"></div>
<div class="bk" style="left:459.50px;top:502.31px;width:3.50px;height:12.90px;background:#f9c7d1;border-radius:1.5px;"></div>
<div class="bk" style="left:463.50px;top:502.31px;width:13.50px;height:12.90px;background:#c9e4cc;border-radius:1.5px;"></div>
<div class="bk" style="left:477.00px;top:502.31px;width:4.25px;height:12.90px;background:#fde89c;border-radius:1.5px;"></div>
<div class="bk" style="left:481.50px;top:502.31px;width:27.00px;height:12.90px;background:#c9e4cc;border-radius:1.5px;"></div>
<div class="bk" style="left:509.00px;top:502.31px;width:5.00px;height:12.90px;background:#f9c7d1;border-radius:1.5px;"></div>
<div class="bk" style="left:514.00px;top:502.31px;width:77.50px;height:12.90px;background:#c9e4cc;border-radius:1.5px;"></div>
<div class="bk" style="left:592.00px;top:502.31px;width:41.50px;height:12.90px;background:#fde89c;border-radius:1.5px;"></div>
<div class="bk" style="left:634.00px;top:502.31px;width:177.00px;height:12.90px;background:#c9e4cc;border-radius:1.5px;"></div>
<div class="bk" style="left:811.50px;top:502.31px;width:39.00px;height:12.90px;background:#fde89c;border-radius:1.5px;"></div>
<div class="bk" style="left:877.00px;top:502.31px;width:60.00px;height:12.90px;background:#f9c7d1;border-radius:1.5px;"></div>
<div class="bk" style="left:937.00px;top:502.31px;width:93.50px;height:12.90px;background:#c9e4cc;border-radius:1.5px;"></div>
<div class="bk" style="left:1031.00px;top:502.31px;width:16.50px;height:12.90px;background:#fde89c;border-radius:1.5px;"></div>
<div class="bk" style="left:1048.00px;top:502.31px;width:21.00px;height:12.90px;background:#c9e4cc;border-radius:1.5px;"></div>
<div class="bk" style="left:1069.50px;top:502.31px;width:9.00px;height:12.90px;background:#f9c7d1;border-radius:1.5px;"></div>
<div class="bk" style="left:1079.00px;top:502.31px;width:61.50px;height:12.90px;background:#c9e4cc;border-radius:1.5px;"></div>
<div class="bk" style="left:57.00px;top:483.71px;width:141.50px;height:20.90px;background:#c9e4cc;"></div>
<div class="bk" style="left:198.50px;top:483.71px;width:17.00px;height:20.90px;background:#f9c7d1;"></div>
<div class="bk" style="left:215.50px;top:483.71px;width:27.75px;height:20.90px;background:#fde89c;"></div>
<div class="bk" style="left:370.00px;top:562.77px;width:880.00px;height:30.30px;background:#cde2b0;"></div>
<div class="bk" style="left:380.25px;top:562.77px;width:9.25px;height:30.30px;background:#626bad;border-radius:2.5px;"></div>
<div class="bk" style="left:389.50px;top:562.77px;width:7.50px;height:30.30px;background:#acd28e;border-radius:2.5px;"></div>
<div class="bk" style="left:406.50px;top:562.77px;width:9.25px;height:30.30px;background:#626bad;border-radius:2.5px;"></div>
<div class="bk" style="left:439.00px;top:562.77px;width:9.25px;height:30.30px;background:#626bad;border-radius:2.5px;"></div>
<div class="bk" style="left:461.50px;top:562.77px;width:2.50px;height:30.30px;background:#626bad;border-radius:1.2px;"></div>
<div class="bk" style="left:476.25px;top:562.77px;width:3.75px;height:30.30px;background:#626bad;border-radius:1.9px;"></div>
<div class="bk" style="left:480.50px;top:562.77px;width:4.50px;height:30.30px;background:#626bad;border-radius:2.2px;"></div>
<div class="bk ov" style="left:485.00px;top:562.77px;width:30.00px;height:30.30px;background:#dddcda;border-radius:2.5px;"><span class="lb2" style="color:#f4f4f3">DS</span></div>
<div class="bk" style="left:515.75px;top:562.77px;width:18.00px;height:30.30px;background:#f07679;border-radius:2.5px;"></div>
<div class="bk ov" style="left:533.75px;top:562.77px;width:97.00px;height:30.30px;background:#f7ea7a;border-radius:2.5px;"><span class="lb2" style="color:#2a2a12">ZV</span></div>
<div class="bk" style="left:654.50px;top:562.77px;width:8.25px;height:30.30px;background:#626bad;border-radius:2.5px;"></div>
<div class="bk" style="left:663.75px;top:562.77px;width:16.50px;height:30.30px;background:#626bad;border-radius:2.5px;"></div>
<div class="bk" style="left:692.50px;top:562.77px;width:8.00px;height:30.30px;background:#626bad;border-radius:2.5px;"></div>
<div class="bk" style="left:711.75px;top:562.77px;width:6.25px;height:30.30px;background:#626bad;border-radius:2.5px;"></div>
<div class="bk" style="left:718.75px;top:562.77px;width:5.50px;height:30.30px;background:#626bad;border-radius:2.5px;"></div>
<div class="bk" style="left:732.50px;top:562.77px;width:5.00px;height:30.30px;background:#626bad;border-radius:2.5px;"></div>
<div class="bk" style="left:741.75px;top:562.77px;width:6.25px;height:30.30px;background:#626bad;border-radius:2.5px;"></div>
<div class="bk" style="left:748.00px;top:562.77px;width:23.50px;height:30.30px;background:#acd28e;border-radius:2.5px;"></div>
<div class="bk" style="left:772.00px;top:562.77px;width:3.75px;height:30.30px;background:#626bad;border-radius:1.9px;"></div>
<div class="bk" style="left:776.50px;top:562.77px;width:9.25px;height:30.30px;background:#626bad;border-radius:2.5px;"></div>
<div class="bk" style="left:798.25px;top:562.77px;width:12.50px;height:30.30px;background:#626bad;border-radius:2.5px;"></div>
<div class="bk ov" style="left:810.75px;top:562.77px;width:54.25px;height:30.30px;background:#fcbb3a;border-radius:2.5px;"><span class="lb2" style="color:#2a2a12">O</span></div>
<div class="bk" style="left:874.25px;top:562.77px;width:2.50px;height:30.30px;background:#626bad;border-radius:1.2px;"></div>
<div class="bk" style="left:893.00px;top:562.77px;width:4.50px;height:30.30px;background:#626bad;border-radius:2.2px;"></div>
<div class="bk" style="left:921.75px;top:562.77px;width:8.75px;height:30.30px;background:#626bad;border-radius:2.5px;"></div>
<div class="bk" style="left:942.50px;top:562.77px;width:5.00px;height:30.30px;background:#626bad;border-radius:2.5px;"></div>
<div class="bk" style="left:948.25px;top:562.77px;width:6.00px;height:30.30px;background:#626bad;border-radius:2.5px;"></div>
<div class="bk ov" style="left:986.25px;top:562.77px;width:32.50px;height:30.30px;background:#626bad;border-radius:2.5px;"><span class="lb2" style="color:#ffffff">K</span></div>
<div class="bk" style="left:1018.75px;top:562.77px;width:22.50px;height:30.30px;background:#f07679;border-radius:2.5px;"></div>
<div class="bk" style="left:1052.00px;top:562.77px;width:3.75px;height:30.30px;background:#626bad;border-radius:1.9px;"></div>
<div class="bk" style="left:1060.00px;top:562.77px;width:3.75px;height:30.30px;background:#626bad;border-radius:1.9px;"></div>
<div class="bk" style="left:1090.50px;top:562.77px;width:2.50px;height:30.30px;background:#626bad;border-radius:1.2px;"></div>
<div class="bk" style="left:1093.30px;top:562.77px;width:21.70px;height:30.30px;background:#626bad;border-radius:2.5px;"></div>
<div class="bk" style="left:1115.30px;top:562.77px;width:2.20px;height:30.30px;background:#626bad;border-radius:1.1px;"></div>
<div class="bk" style="left:1117.50px;top:562.77px;width:17.00px;height:30.30px;background:#acd28e;border-radius:2.5px;"></div>
<div class="bk" style="left:1148.00px;top:562.77px;width:11.50px;height:30.30px;background:#acd28e;border-radius:2.5px;"></div>
<div class="bk" style="left:1159.50px;top:562.77px;width:23.50px;height:30.30px;background:#626bad;border-radius:2.5px;"></div>
<div class="bk" style="left:1183.00px;top:562.77px;width:13.00px;height:30.30px;background:#acd28e;border-radius:2.5px;"></div>
<div class="bk" style="left:1196.50px;top:562.77px;width:14.50px;height:30.30px;background:#f7ea7a;border-radius:2.5px;"></div>
<div class="bk" style="left:1211.25px;top:562.77px;width:3.75px;height:30.30px;background:#626bad;border-radius:1.9px;"></div>
<div class="bk" style="left:1228.00px;top:562.77px;width:6.25px;height:30.30px;background:#626bad;border-radius:2.5px;"></div>
<div class="bk" style="left:1238.75px;top:562.77px;width:5.00px;height:30.30px;background:#626bad;border-radius:2.5px;"></div>
<div class="bk" style="left:1244.00px;top:562.77px;width:6.00px;height:30.30px;background:#626bad;border-radius:2.5px;"></div>
<span class="lb" style="left:955.00px;top:566.02px;color:#2a2a12">RE</span>
<span class="lb" style="left:1065.00px;top:566.02px;color:#2a2a12">RE</span>
<div class="bk" style="left:372.00px;top:594.37px;width:108.75px;height:12.90px;background:#c9e4cc;border-radius:1.5px;"></div>
<div class="bk" style="left:481.00px;top:594.37px;width:4.00px;height:12.90px;background:#fde89c;border-radius:1.5px;"></div>
<div class="bk" style="left:485.50px;top:594.37px;width:23.00px;height:12.90px;background:#c9e4cc;border-radius:1.5px;"></div>
<div class="bk" style="left:509.00px;top:594.37px;width:8.50px;height:12.90px;background:#f9c7d1;border-radius:1.5px;"></div>
<div class="bk" style="left:518.00px;top:594.37px;width:15.50px;height:12.90px;background:#c9e4cc;border-radius:1.5px;"></div>
<div class="bk" style="left:533.75px;top:594.37px;width:2.75px;height:12.90px;background:#fde89c;border-radius:1.5px;"></div>
<div class="bk" style="left:537.00px;top:594.37px;width:93.50px;height:12.90px;background:#f9c7d1;border-radius:1.5px;"></div>
<div class="bk" style="left:631.00px;top:594.37px;width:32.50px;height:12.90px;background:#c9e4cc;border-radius:1.5px;"></div>
<div class="bk" style="left:664.00px;top:594.37px;width:16.50px;height:12.90px;background:#f9c7d1;border-radius:1.5px;"></div>
<div class="bk" style="left:681.00px;top:594.37px;width:11.50px;height:12.90px;background:#c9e4cc;border-radius:1.5px;"></div>
<div class="bk" style="left:693.00px;top:594.37px;width:7.50px;height:12.90px;background:#f9c7d1;border-radius:1.5px;"></div>
<div class="bk" style="left:701.00px;top:594.37px;width:17.00px;height:12.90px;background:#c9e4cc;border-radius:1.5px;"></div>
<div class="bk" style="left:718.00px;top:594.37px;width:6.50px;height:12.90px;background:#f9c7d1;border-radius:1.5px;"></div>
<div class="bk" style="left:725.00px;top:594.37px;width:16.50px;height:12.90px;background:#c9e4cc;border-radius:1.5px;"></div>
<div class="bk" style="left:742.00px;top:594.37px;width:6.00px;height:12.90px;background:#f9c7d1;border-radius:1.5px;"></div>
<div class="bk" style="left:748.50px;top:594.37px;width:27.00px;height:12.90px;background:#c9e4cc;border-radius:1.5px;"></div>
<div class="bk" style="left:776.00px;top:594.37px;width:10.00px;height:12.90px;background:#f9c7d1;border-radius:1.5px;"></div>
<div class="bk" style="left:786.00px;top:594.37px;width:12.00px;height:12.90px;background:#c9e4cc;border-radius:1.5px;"></div>
<div class="bk" style="left:798.50px;top:594.37px;width:12.50px;height:12.90px;background:#f9c7d1;border-radius:1.5px;"></div>
<div class="bk" style="left:811.00px;top:594.37px;width:138.00px;height:12.90px;background:#c9e4cc;border-radius:1.5px;"></div>
<div class="bk" style="left:949.50px;top:594.37px;width:4.50px;height:12.90px;background:#f9c7d1;border-radius:1.5px;"></div>
<div class="bk" style="left:954.50px;top:594.37px;width:21.00px;height:12.90px;background:#c9e4cc;border-radius:1.5px;"></div>
<div class="bk" style="left:976.00px;top:594.37px;width:17.50px;height:12.90px;background:#fde89c;border-radius:1.5px;"></div>
<div class="bk" style="left:994.00px;top:594.37px;width:47.50px;height:12.90px;background:#f9c7d1;border-radius:1.5px;"></div>
<div class="bk" style="left:1041.50px;top:594.37px;width:51.00px;height:12.90px;background:#c9e4cc;border-radius:1.5px;"></div>
<div class="bk" style="left:1093.00px;top:594.37px;width:22.00px;height:12.90px;background:#f9c7d1;border-radius:1.5px;"></div>
<div class="bk" style="left:1117.50px;top:594.37px;width:17.00px;height:12.90px;background:#fde89c;border-radius:1.5px;"></div>
<div class="bk" style="left:1135.00px;top:594.37px;width:24.50px;height:12.90px;background:#c9e4cc;border-radius:1.5px;"></div>
<div class="bk" style="left:1160.00px;top:594.37px;width:23.00px;height:12.90px;background:#f9c7d1;border-radius:1.5px;"></div>
<div class="bk" style="left:1183.50px;top:594.37px;width:12.50px;height:12.90px;background:#c9e4cc;border-radius:1.5px;"></div>
<div class="bk" style="left:1196.50px;top:594.37px;width:14.50px;height:12.90px;background:#f9c7d1;border-radius:1.5px;"></div>
<div class="bk" style="left:1211.50px;top:594.37px;width:32.00px;height:12.90px;background:#c9e4cc;border-radius:1.5px;"></div>
<div class="bk" style="left:1244.00px;top:594.37px;width:6.50px;height:12.90px;background:#f9c7d1;border-radius:1.5px;"></div>
<div class="bk" style="left:57.00px;top:575.77px;width:123.00px;height:20.90px;background:#c9e4cc;"></div>
<div class="bk" style="left:180.00px;top:575.77px;width:63.00px;height:20.90px;background:#f9c7d1;"></div>
<div class="bk" style="left:243.00px;top:575.77px;width:6.75px;height:20.90px;background:#fde89c;"></div>
<div class="bk" style="left:426.25px;top:654.83px;width:521.25px;height:30.30px;background:#cde2b0;"></div>
<div class="bk" style="left:952.00px;top:654.83px;width:77.00px;height:30.30px;background:#cde2b0;"></div>
<div class="bk" style="left:1034.00px;top:654.83px;width:58.50px;height:30.30px;background:#cde2b0;"></div>
<div class="bk" style="left:1103.50px;top:654.83px;width:199.00px;height:30.30px;background:#cde2b0;"></div>
<div class="bk" style="left:452.50px;top:654.83px;width:8.75px;height:30.30px;background:#626bad;border-radius:2.5px;"></div>
<div class="bk" style="left:481.25px;top:654.83px;width:4.25px;height:30.30px;background:#626bad;border-radius:2.1px;"></div>
<div class="bk ov" style="left:485.50px;top:654.83px;width:29.50px;height:30.30px;background:#dddcda;border-radius:2.5px;"><span class="lb2" style="color:#f4f4f3">DS</span></div>
<div class="bk" style="left:531.25px;top:654.83px;width:9.25px;height:30.30px;background:#626bad;border-radius:2.5px;"></div>
<div class="bk" style="left:548.25px;top:654.83px;width:18.00px;height:30.30px;background:#626bad;border-radius:2.5px;"></div>
<div class="bk" style="left:566.50px;top:654.83px;width:8.00px;height:30.30px;background:#626bad;border-radius:2.5px;"></div>
<div class="bk" style="left:574.50px;top:654.83px;width:3.50px;height:30.30px;background:#acd28e;border-radius:1.8px;"></div>
<div class="bk" style="left:606.25px;top:654.83px;width:6.25px;height:30.30px;background:#626bad;border-radius:2.5px;"></div>
<div class="bk" style="left:624.50px;top:654.83px;width:1.25px;height:30.30px;background:#626bad;border-radius:0.6px;"></div>
<div class="bk" style="left:629.50px;top:654.83px;width:5.00px;height:30.30px;background:#acd28e;border-radius:2.5px;"></div>
<div class="bk" style="left:635.00px;top:654.83px;width:10.00px;height:30.30px;background:#626bad;border-radius:2.5px;"></div>
<div class="bk" style="left:681.25px;top:654.83px;width:18.00px;height:30.30px;background:#f07679;border-radius:2.5px;"></div>
<div class="bk" style="left:708.75px;top:654.83px;width:2.50px;height:30.30px;background:#626bad;border-radius:1.2px;"></div>
<div class="bk" style="left:711.75px;top:654.83px;width:7.00px;height:30.30px;background:#f7ea7a;border-radius:2.5px;"></div>
<div class="bk" style="left:744.50px;top:654.83px;width:6.25px;height:30.30px;background:#626bad;border-radius:2.5px;"></div>
<div class="bk" style="left:751.00px;top:654.83px;width:14.00px;height:30.30px;background:#acd28e;border-radius:2.5px;"></div>
<div class="bk" style="left:765.75px;top:654.83px;width:4.75px;height:30.30px;background:#626bad;border-radius:2.4px;"></div>
<div class="bk" style="left:772.00px;top:654.83px;width:4.75px;height:30.30px;background:#626bad;border-radius:2.4px;"></div>
<div class="bk" style="left:777.00px;top:654.83px;width:3.50px;height:30.30px;background:#acd28e;border-radius:1.8px;"></div>
<div class="bk ov" style="left:781.25px;top:654.83px;width:31.25px;height:30.30px;background:#626bad;border-radius:2.5px;"><span class="lb2" style="color:#ffffff">APH</span></div>
<div class="bk" style="left:854.75px;top:654.83px;width:1.50px;height:30.30px;background:#626bad;border-radius:0.8px;"></div>
<div class="bk ov" style="left:864.25px;top:654.83px;width:55.00px;height:30.30px;background:#fcbb3a;border-radius:2.5px;"><span class="lb2" style="color:#2a2a12">O</span></div>
<div class="bk" style="left:919.50px;top:654.83px;width:1.50px;height:30.30px;background:#acd28e;border-radius:0.8px;"></div>
<div class="bk" style="left:952.00px;top:654.83px;width:5.00px;height:30.30px;background:#acd28e;border-radius:2.5px;"></div>
<div class="bk" style="left:966.25px;top:654.83px;width:3.75px;height:30.30px;background:#626bad;border-radius:1.9px;"></div>
<div class="bk" style="left:970.50px;top:654.83px;width:19.50px;height:30.30px;background:#f7ea7a;border-radius:2.5px;"></div>
<div class="bk" style="left:1000.75px;top:654.83px;width:13.75px;height:30.30px;background:#acd28e;border-radius:2.5px;"></div>
<div class="bk" style="left:1015.00px;top:654.83px;width:12.50px;height:30.30px;background:#626bad;border-radius:2.5px;"></div>
<div class="bk" style="left:1041.25px;top:654.83px;width:1.25px;height:30.30px;background:#626bad;border-radius:0.6px;"></div>
<div class="bk" style="left:1042.50px;top:654.83px;width:2.00px;height:30.30px;background:#f07679;border-radius:1.0px;"></div>
<div class="bk" style="left:1048.00px;top:654.83px;width:22.00px;height:30.30px;background:#f7ea7a;border-radius:2.5px;"></div>
<div class="bk" style="left:1090.00px;top:654.83px;width:2.50px;height:30.30px;background:#626bad;border-radius:1.2px;"></div>
<div class="bk" style="left:1127.00px;top:654.83px;width:16.50px;height:30.30px;background:#acd28e;border-radius:2.5px;"></div>
<div class="bk" style="left:1144.00px;top:654.83px;width:15.50px;height:30.30px;background:#f07679;border-radius:2.5px;"></div>
<div class="bk" style="left:1160.00px;top:654.83px;width:23.00px;height:30.30px;background:#acd28e;border-radius:2.5px;"></div>
<div class="bk" style="left:1183.25px;top:654.83px;width:4.25px;height:30.30px;background:#626bad;border-radius:2.1px;"></div>
<div class="bk" style="left:1187.50px;top:654.83px;width:2.00px;height:30.30px;background:#acd28e;border-radius:1.0px;"></div>
<div class="bk ov" style="left:1237.50px;top:654.83px;width:30.00px;height:30.30px;background:#acd28e;border-radius:2.5px;"><span class="lb2" style="color:#2a2a12">PRC</span></div>
<div class="bk" style="left:1270.00px;top:654.83px;width:4.50px;height:30.30px;background:#626bad;border-radius:2.2px;"></div>
<div class="bk" style="left:1276.25px;top:654.83px;width:7.50px;height:30.30px;background:#626bad;border-radius:2.5px;"></div>
<div class="bk" style="left:1285.50px;top:654.83px;width:11.50px;height:30.30px;background:#626bad;border-radius:2.5px;"></div>
<div class="bk" style="left:1302.50px;top:654.83px;width:3.75px;height:30.30px;background:#626bad;border-radius:1.9px;"></div>
<span class="lb" style="left:579.50px;top:658.08px;color:#2a2a12">RE</span>
<span class="lb" style="left:646.25px;top:658.08px;color:#2a2a12">RE</span>
<span class="lb" style="left:813.00px;top:658.08px;color:#2a2a12">RE</span>
<span class="lb" style="left:1191.25px;top:658.08px;color:#2a2a12">RE</span>
<div class="bk" style="left:426.25px;top:686.43px;width:54.75px;height:12.90px;background:#c9e4cc;border-radius:1.5px;"></div>
<div class="bk" style="left:481.25px;top:686.43px;width:4.25px;height:12.90px;background:#fde89c;border-radius:1.5px;"></div>
<div class="bk" style="left:486.00px;top:686.43px;width:22.50px;height:12.90px;background:#c9e4cc;border-radius:1.5px;"></div>
<div class="bk" style="left:509.25px;top:686.43px;width:5.75px;height:12.90px;background:#f9c7d1;border-radius:1.5px;"></div>
<div class="bk" style="left:515.50px;top:686.43px;width:165.50px;height:12.90px;background:#c9e4cc;border-radius:1.5px;"></div>
<div class="bk" style="left:681.00px;top:686.43px;width:1.50px;height:12.90px;background:#f9c7d1;border-radius:1.5px;"></div>
<div class="bk" style="left:682.50px;top:686.43px;width:16.50px;height:12.90px;background:#c9e4cc;border-radius:1.5px;"></div>
<div class="bk" style="left:699.25px;top:686.43px;width:1.25px;height:12.90px;background:#fde89c;border-radius:1.5px;"></div>
<div class="bk" style="left:701.00px;top:686.43px;width:10.00px;height:12.90px;background:#c9e4cc;border-radius:1.5px;"></div>
<div class="bk" style="left:711.75px;top:686.43px;width:7.00px;height:12.90px;background:#f9c7d1;border-radius:1.5px;"></div>
<div class="bk" style="left:719.00px;top:686.43px;width:144.75px;height:12.90px;background:#c9e4cc;border-radius:1.5px;"></div>
<div class="bk" style="left:864.00px;top:686.43px;width:1.00px;height:12.90px;background:#f9c7d1;border-radius:1.5px;"></div>
<div class="bk" style="left:865.50px;top:686.43px;width:53.00px;height:12.90px;background:#c9e4cc;border-radius:1.5px;"></div>
<div class="bk" style="left:918.75px;top:686.43px;width:1.50px;height:12.90px;background:#fde89c;border-radius:1.5px;"></div>
<div class="bk" style="left:920.50px;top:686.43px;width:27.00px;height:12.90px;background:#c9e4cc;border-radius:1.5px;"></div>
<div class="bk" style="left:952.00px;top:686.43px;width:5.00px;height:12.90px;background:#fde89c;border-radius:1.5px;"></div>
<div class="bk" style="left:957.50px;top:686.43px;width:12.50px;height:12.90px;background:#c9e4cc;border-radius:1.5px;"></div>
<div class="bk" style="left:970.50px;top:686.43px;width:19.50px;height:12.90px;background:#f9c7d1;border-radius:1.5px;"></div>
<div class="bk" style="left:990.00px;top:686.43px;width:37.50px;height:12.90px;background:#c9e4cc;border-radius:1.5px;"></div>
<div class="bk" style="left:1034.00px;top:686.43px;width:8.00px;height:12.90px;background:#c9e4cc;border-radius:1.5px;"></div>
<div class="bk" style="left:1042.50px;top:686.43px;width:2.00px;height:12.90px;background:#f9c7d1;border-radius:1.5px;"></div>
<div class="bk" style="left:1045.00px;top:686.43px;width:2.50px;height:12.90px;background:#c9e4cc;border-radius:1.5px;"></div>
<div class="bk" style="left:1048.00px;top:686.43px;width:22.00px;height:12.90px;background:#f9c7d1;border-radius:1.5px;"></div>
<div class="bk" style="left:1070.50px;top:686.43px;width:22.00px;height:12.90px;background:#c9e4cc;border-radius:1.5px;"></div>
<div class="bk" style="left:1103.50px;top:686.43px;width:23.50px;height:12.90px;background:#c9e4cc;border-radius:1.5px;"></div>
<div class="bk" style="left:1127.00px;top:686.43px;width:16.50px;height:12.90px;background:#fde89c;border-radius:1.5px;"></div>
<div class="bk" style="left:1144.00px;top:686.43px;width:14.50px;height:12.90px;background:#c9e4cc;border-radius:1.5px;"></div>
<div class="bk" style="left:1158.75px;top:686.43px;width:1.25px;height:12.90px;background:#f9c7d1;border-radius:1.5px;"></div>
<div class="bk" style="left:1160.00px;top:686.43px;width:77.00px;height:12.90px;background:#c9e4cc;border-radius:1.5px;"></div>
<div class="bk" style="left:1237.50px;top:686.43px;width:28.50px;height:12.90px;background:#fde89c;border-radius:1.5px;"></div>
<div class="bk" style="left:1266.00px;top:686.43px;width:38.00px;height:12.90px;background:#c9e4cc;border-radius:1.5px;"></div>
<div class="bk" style="left:57.00px;top:667.83px;width:164.00px;height:20.90px;background:#c9e4cc;"></div>
<div class="bk" style="left:221.00px;top:667.83px;width:13.00px;height:20.90px;background:#f9c7d1;"></div>
<div class="bk" style="left:234.00px;top:667.83px;width:13.25px;height:20.90px;background:#fde89c;"></div>
<div class="bk" style="left:512.50px;top:746.89px;width:638.00px;height:30.30px;background:#cde2b0;"></div>
<div class="bk ov" style="left:478.00px;top:746.89px;width:34.50px;height:30.30px;background:#dddcda;border-radius:2.5px;"><span class="lb2" style="color:#f4f4f3">DS</span></div>
<div class="bk" style="left:523.75px;top:746.89px;width:4.50px;height:30.30px;background:#626bad;border-radius:2.2px;"></div>
<div class="bk ov" style="left:534.25px;top:746.89px;width:27.50px;height:30.30px;background:#626bad;border-radius:2.5px;"><span class="lb2" style="color:#ffffff">APH</span></div>
<div class="bk" style="left:561.75px;top:746.89px;width:23.25px;height:30.30px;background:#acd28e;border-radius:2.5px;"></div>
<div class="bk" style="left:599.50px;top:746.89px;width:6.25px;height:30.30px;background:#626bad;border-radius:2.5px;"></div>
<div class="bk" style="left:625.75px;top:746.89px;width:5.00px;height:30.30px;background:#626bad;border-radius:2.5px;"></div>
<div class="bk" style="left:653.25px;top:746.89px;width:3.75px;height:30.30px;background:#626bad;border-radius:1.9px;"></div>
<div class="bk" style="left:669.25px;top:746.89px;width:11.50px;height:30.30px;background:#626bad;border-radius:2.5px;"></div>
<div class="bk" style="left:691.75px;top:746.89px;width:4.50px;height:30.30px;background:#626bad;border-radius:2.2px;"></div>
<div class="bk" style="left:719.25px;top:746.89px;width:0.95px;height:30.30px;background:#626bad;border-radius:0.5px;"></div>
<div class="bk ov" style="left:720.50px;top:746.89px;width:31.25px;height:30.30px;background:#f07679;border-radius:2.5px;"><span class="lb2" style="color:#2a2a12">SV</span></div>
<div class="bk ov" style="left:752.00px;top:746.89px;width:33.00px;height:30.30px;background:#acd28e;border-radius:2.5px;"><span class="lb2" style="color:#2a2a12">OK</span></div>
<div class="bk" style="left:785.30px;top:746.89px;width:15.70px;height:30.30px;background:#acd28e;border-radius:2.5px;"></div>
<div class="bk" style="left:801.75px;top:746.89px;width:1.25px;height:30.30px;background:#626bad;border-radius:0.6px;"></div>
<div class="bk" style="left:803.75px;top:746.89px;width:3.25px;height:30.30px;background:#f7ea7a;border-radius:1.6px;"></div>
<div class="bk" style="left:836.25px;top:746.89px;width:3.75px;height:30.30px;background:#626bad;border-radius:1.9px;"></div>
<div class="bk" style="left:880.00px;top:746.89px;width:6.25px;height:30.30px;background:#626bad;border-radius:2.5px;"></div>
<div class="bk" style="left:915.50px;top:746.89px;width:8.75px;height:30.30px;background:#626bad;border-radius:2.5px;"></div>
<div class="bk" style="left:929.50px;top:746.89px;width:1.50px;height:30.30px;background:#626bad;border-radius:0.8px;"></div>
<div class="bk" style="left:931.25px;top:746.89px;width:13.00px;height:30.30px;background:#f07679;border-radius:2.5px;"></div>
<div class="bk" style="left:957.00px;top:746.89px;width:9.25px;height:30.30px;background:#acd28e;border-radius:2.5px;"></div>
<div class="bk" style="left:995.00px;top:746.89px;width:4.25px;height:30.30px;background:#acd28e;border-radius:2.1px;"></div>
<div class="bk" style="left:1000.75px;top:746.89px;width:1.75px;height:30.30px;background:#acd28e;border-radius:0.9px;"></div>
<div class="bk" style="left:1017.50px;top:746.89px;width:9.25px;height:30.30px;background:#626bad;border-radius:2.5px;"></div>
<div class="bk" style="left:1037.00px;top:746.89px;width:5.50px;height:30.30px;background:#626bad;border-radius:2.5px;"></div>
<div class="bk" style="left:1059.50px;top:746.89px;width:10.50px;height:30.30px;background:#626bad;border-radius:2.5px;"></div>
<div class="bk" style="left:1096.25px;top:746.89px;width:6.75px;height:30.30px;background:#626bad;border-radius:2.5px;"></div>
<div class="bk" style="left:1103.00px;top:746.89px;width:26.00px;height:30.30px;background:#acd28e;border-radius:2.5px;"></div>
<div class="bk" style="left:1150.50px;top:746.89px;width:4.00px;height:30.30px;background:#626bad;border-radius:2.0px;"></div>
<span class="lb" style="left:808.25px;top:750.14px;color:#2a2a12">RE</span>
<span class="lb" style="left:841.25px;top:750.14px;color:#2a2a12">RE</span>
<span class="lb" style="left:888.25px;top:750.14px;color:#2a2a12">RE</span>
<span class="lb" style="left:967.50px;top:750.14px;color:#2a2a12">RE</span>
<div class="bk" style="left:480.75px;top:778.49px;width:28.50px;height:12.90px;background:#c9e4cc;border-radius:1.5px;"></div>
<div class="bk" style="left:509.50px;top:778.49px;width:3.00px;height:12.90px;background:#f9c7d1;border-radius:1.5px;"></div>
<div class="bk" style="left:513.00px;top:778.49px;width:48.50px;height:12.90px;background:#c9e4cc;border-radius:1.5px;"></div>
<div class="bk" style="left:561.75px;top:778.49px;width:23.25px;height:12.90px;background:#fde89c;border-radius:1.5px;"></div>
<div class="bk" style="left:585.50px;top:778.49px;width:115.00px;height:12.90px;background:#c9e4cc;border-radius:1.5px;"></div>
<div class="bk" style="left:701.25px;top:778.49px;width:18.00px;height:12.90px;background:#fde89c;border-radius:1.5px;"></div>
<div class="bk" style="left:719.50px;top:778.49px;width:32.00px;height:12.90px;background:#f9c7d1;border-radius:1.5px;"></div>
<div class="bk" style="left:752.00px;top:778.49px;width:50.50px;height:12.90px;background:#c9e4cc;border-radius:1.5px;"></div>
<div class="bk" style="left:803.25px;top:778.49px;width:3.75px;height:12.90px;background:#f9c7d1;border-radius:1.5px;"></div>
<div class="bk" style="left:807.50px;top:778.49px;width:39.00px;height:12.90px;background:#c9e4cc;border-radius:1.5px;"></div>
<div class="bk" style="left:847.00px;top:778.49px;width:18.50px;height:12.90px;background:#fde89c;border-radius:1.5px;"></div>
<div class="bk" style="left:866.00px;top:778.49px;width:64.50px;height:12.90px;background:#c9e4cc;border-radius:1.5px;"></div>
<div class="bk" style="left:931.00px;top:778.49px;width:13.00px;height:12.90px;background:#f9c7d1;border-radius:1.5px;"></div>
<div class="bk" style="left:944.50px;top:778.49px;width:196.00px;height:12.90px;background:#c9e4cc;border-radius:1.5px;"></div>
<div class="bk" style="left:57.00px;top:759.89px;width:162.50px;height:20.90px;background:#c9e4cc;"></div>
<div class="bk" style="left:219.50px;top:759.89px;width:14.50px;height:20.90px;background:#f9c7d1;"></div>
<div class="bk" style="left:234.00px;top:759.89px;width:15.75px;height:20.90px;background:#fde89c;"></div>
<div style="left:448.5px;top:99.5px;width:18.5px;height:37.3px;background:#86b9e1;border-radius:0 4.5px 4.5px 0"></div>
<div style="left:450.70px;top:112.70px;width:6.5px;height:4.9px;background:#fff"></div>
<div style="left:458.70px;top:112.70px;width:6.5px;height:4.9px;background:#fff"></div>
<div style="left:450.70px;top:118.90px;width:6.5px;height:4.9px;background:#fff"></div>
<div style="left:458.70px;top:118.90px;width:6.5px;height:4.9px;background:#fff"></div>
</div>
<div id="panel"><div style="left:29.2px;top:99px;width:418.6px;height:40px;background:#fbe23e;border-top:1px solid #86b7de"></div>
<div style="left:46px;top:138.4px;width:401.8px;height:219px;background:#fff"></div>
<div style="left:447.7px;top:99px;width:1.2px;height:259px;background:#86b7de"></div>
<span class="pt" style="left:63.90px;top:112.00px;font-size:17px;color:#4f4b1e;letter-spacing:0.547px;" id="p_z">Zobrazit</span>
<svg style="position:absolute;left:422.00px;top:109.95px" width="19.5" height="19.5" viewBox="0 0 17 17"><path d="M2.6 2.6 L14.4 14.4 M14.4 2.6 L2.6 14.4" stroke="#d6cf3c" stroke-width="4.0" stroke-linecap="butt"/></svg>
<div style="left:46px;top:185.5px;width:401.8px;height:37.7px;background:#fbe23e"></div>
<div style="left:65px;top:223.2px;width:348px;height:1px;background:#e3d9a0"></div>
<div style="left:65px;top:289.5px;width:348px;height:1.2px;background:#cfcfcf"></div>
<div class="tg" style="left:68.60px;top:139.90px;background:#f1854a"></div>
<div class="kn" style="left:94.50px;top:142.20px;background:#fff"></div>
<svg style="position:absolute;left:73.50px;top:143.50px" width="13" height="11" viewBox="0 0 13 11"><path d="M1.3 5.6 L4.8 8.8 L11.6 1.9" fill="none" stroke="#fff" stroke-width="2.7"/></svg>
<span class="pt" id="p0" style="left:114.60px;top:139.60px;color:#555;letter-spacing:0.882px;">Směny</span>
<div class="tg" style="left:68.60px;top:167.50px;background:#878787"></div>
<div class="kn" style="left:70.60px;top:169.80px;background:#f1f2f3"></div>
<svg style="position:absolute;left:92.30px;top:172.10px" width="10.4" height="10.4" viewBox="0 0 11 11"><path d="M1.5 1.5 L9.5 9.5 M9.5 1.5 L1.5 9.5" stroke="#fff" stroke-width="3.4"/></svg>
<span class="pt" id="p1" style="left:114.60px;top:167.20px;color:#555;letter-spacing:0.579px;">Požadavky</span>
<div class="tg" style="left:68.60px;top:197.30px;background:#f4893c"></div>
<div class="kn" style="left:94.50px;top:199.60px;background:#fbe23e"></div>
<svg style="position:absolute;left:73.50px;top:200.90px" width="13" height="11" viewBox="0 0 13 11"><path d="M1.3 5.6 L4.8 8.8 L11.6 1.9" fill="none" stroke="#fbe23e" stroke-width="2.7"/></svg>
<span class="pt" id="p2" style="left:115.60px;top:197.00px;color:#4f4b1e;letter-spacing:0.626px;">Stavy zaměstnanců</span>
<div class="tg" style="left:68.60px;top:236.80px;background:#878787"></div>
<div class="kn" style="left:70.60px;top:239.10px;background:#f1f2f3"></div>
<svg style="position:absolute;left:92.30px;top:241.40px" width="10.4" height="10.4" viewBox="0 0 11 11"><path d="M1.5 1.5 L9.5 9.5 M9.5 1.5 L1.5 9.5" stroke="#fff" stroke-width="3.4"/></svg>
<span class="pt" id="p3" style="left:148.40px;top:235.30px;color:#555;letter-spacing:0.847px;">Potřeba zdrojů</span>
<div class="tg" style="left:68.60px;top:263.00px;background:#878787"></div>
<div class="kn" style="left:70.60px;top:265.30px;background:#f1f2f3"></div>
<svg style="position:absolute;left:92.30px;top:267.60px" width="10.4" height="10.4" viewBox="0 0 11 11"><path d="M1.5 1.5 L9.5 9.5 M9.5 1.5 L1.5 9.5" stroke="#fff" stroke-width="3.4"/></svg>
<span class="pt" id="p4" style="left:114.60px;top:262.70px;color:#555;letter-spacing:0.865px;">Volné směny</span>
<div class="tg" style="left:68.60px;top:299.90px;background:#878787"></div>
<div class="kn" style="left:70.60px;top:302.20px;background:#f1f2f3"></div>
<svg style="position:absolute;left:92.30px;top:304.50px" width="10.4" height="10.4" viewBox="0 0 11 11"><path d="M1.5 1.5 L9.5 9.5 M9.5 1.5 L1.5 9.5" stroke="#fff" stroke-width="3.4"/></svg>
<span class="pt" id="p5" style="left:115.40px;top:299.60px;color:#555;letter-spacing:0.917px;">Kontrola plánu směn</span>
<div class="tg" style="left:68.60px;top:328.70px;background:#878787"></div>
<div class="kn" style="left:70.60px;top:331.00px;background:#f1f2f3"></div>
<svg style="position:absolute;left:92.30px;top:333.30px" width="10.4" height="10.4" viewBox="0 0 11 11"><path d="M1.5 1.5 L9.5 9.5 M9.5 1.5 L1.5 9.5" stroke="#fff" stroke-width="3.4"/></svg>
<span class="pt" id="p6" style="left:115.40px;top:328.40px;color:#555;letter-spacing:0.724px;">Požadavky na změny a výměny směn</span>
<div style="left:120.00px;top:236.40px;width:20.8px;height:18.8px;border-radius:50%;background:#e2e2e2"></div>
<svg style="position:absolute;left:125.00px;top:238.20px" width="11" height="15" viewBox="0 0 11 15"><path d="M2.6 0.5 H8.4 V2 H7.6 V6 C9.2 6.8 10 7.8 10 9.2 H6.1 V13.6 L5.5 14.8 L4.9 13.6 V9.2 H1 C1 7.8 1.8 6.8 3.4 6 V2 H2.6 Z" fill="#efefef"/></svg></div>
<div id="tabs">
<div class="tb" style="top:138.50px"></div>
<div class="tb" style="top:178.35px"></div>
<div class="tb" style="top:218.20px"></div>
<div class="tb" style="top:258.05px"></div>
<div class="tb" style="top:297.90px"></div>
<div class="tb" style="top:337.75px"></div>
<div class="tb" style="top:377.60px"></div>
<div class="tb" style="top:417.45px"></div>
<svg style="position:absolute;left:30.20px;top:150.50px" width="14.00" height="15.50" viewBox="0 0 14 15.5"><circle cx="7" cy="4.9" r="3.6" fill="#fff"/><path d="M1.5 14.2 V11.6 C1.5 9.2 3 7.9 4.6 7.9 C5.4 8.6 6.2 8.9 7 8.9 C7.8 8.9 8.6 8.6 9.4 7.9 C11 7.9 12.5 9.2 12.5 11.6 V14.2 Z" fill="#fff"/></svg>
<svg style="position:absolute;left:30.30px;top:192.30px" width="15.00" height="15.00" viewBox="0 0 15 15"><circle cx="5.6" cy="5.6" r="4.1" fill="none" stroke="#fff" stroke-width="2.1"/><path d="M8.8 8.8 L13.4 13.2" stroke="#fff" stroke-width="2.4" stroke-linecap="round"/></svg>
<svg style="position:absolute;left:31.60px;top:231.50px" width="12.00" height="13.00" viewBox="0 0 16 16"><path d="M0.5 1 H15.5 L10 7.5 V15.5 L6 12.5 V7.5 Z" fill="#b9564a"/></svg>
<svg style="position:absolute;left:32.10px;top:271.50px" width="10.00" height="12.40" viewBox="0 0 10 12.4"><path d="M5 0 L10 5.1 H0 Z M5 12.4 L10 7.3 H0 Z" fill="#fff"/></svg>
<div style="left:35.3px;top:310.40px;width:3.9px;height:3.2px;background:#fff;border-radius:0.8px"></div>
<div style="left:35.3px;top:314.75px;width:3.9px;height:3.2px;background:#fff;border-radius:0.8px"></div>
<div style="left:35.3px;top:319.10px;width:3.9px;height:3.2px;background:#fff;border-radius:0.8px"></div>
<div style="left:31.80px;top:354.1px;width:3.5px;height:3.3px;background:#fff;border-radius:0.8px"></div>
<div style="left:35.90px;top:354.1px;width:3.5px;height:3.3px;background:#fff;border-radius:0.8px"></div>
<div style="left:40.00px;top:354.1px;width:3.5px;height:3.3px;background:#fff;border-radius:0.8px"></div>
<div style="left:32.10px;top:395.60px;width:2.00px;height:4.20px;background:#fff"></div>
<div style="left:35.10px;top:393.80px;width:2.10px;height:6.00px;background:#fff"></div>
<div style="left:38.10px;top:392.50px;width:2.20px;height:7.30px;background:#fff"></div>
<div style="left:41.30px;top:390.60px;width:2.50px;height:9.20px;background:#fff"></div>
<div style="left:29.2px;top:388.8px;width:1.6px;height:12px;background:#fff"></div>
<div style="left:29.2px;top:400.5px;width:17.3px;height:1.2px;background:#fff"></div>
<div style="position:absolute;left:29.2px;top:356.7px;width:419.7px;height:1.8px;background:#7aaddb"></div>
<svg style="position:absolute;left:30.40px;top:428.30px" width="13.40" height="13.40" viewBox="0 0 16 16"><path fill="#fff" fill-rule="evenodd" d="M6.7 0 H9.3 L9.7 2.2 L11 2.8 L12.9 1.5 L14.6 3.3 L13.3 5.1 L13.8 6.4 L16 6.8 V9.3 L13.8 9.7 L13.2 11 L14.5 12.8 L12.7 14.6 L10.9 13.3 L9.6 13.8 L9.2 16 H6.7 L6.3 13.8 L5 13.2 L3.2 14.5 L1.4 12.7 L2.7 10.9 L2.2 9.6 L0 9.2 V6.7 L2.2 6.3 L2.8 5 L1.5 3.2 L3.3 1.4 L5.1 2.7 L6.4 2.2 Z M8 5.4 A2.6 2.6 0 1 0 8 10.6 A2.6 2.6 0 1 0 8 5.4 Z"/></svg>
</div>
</body></html>
